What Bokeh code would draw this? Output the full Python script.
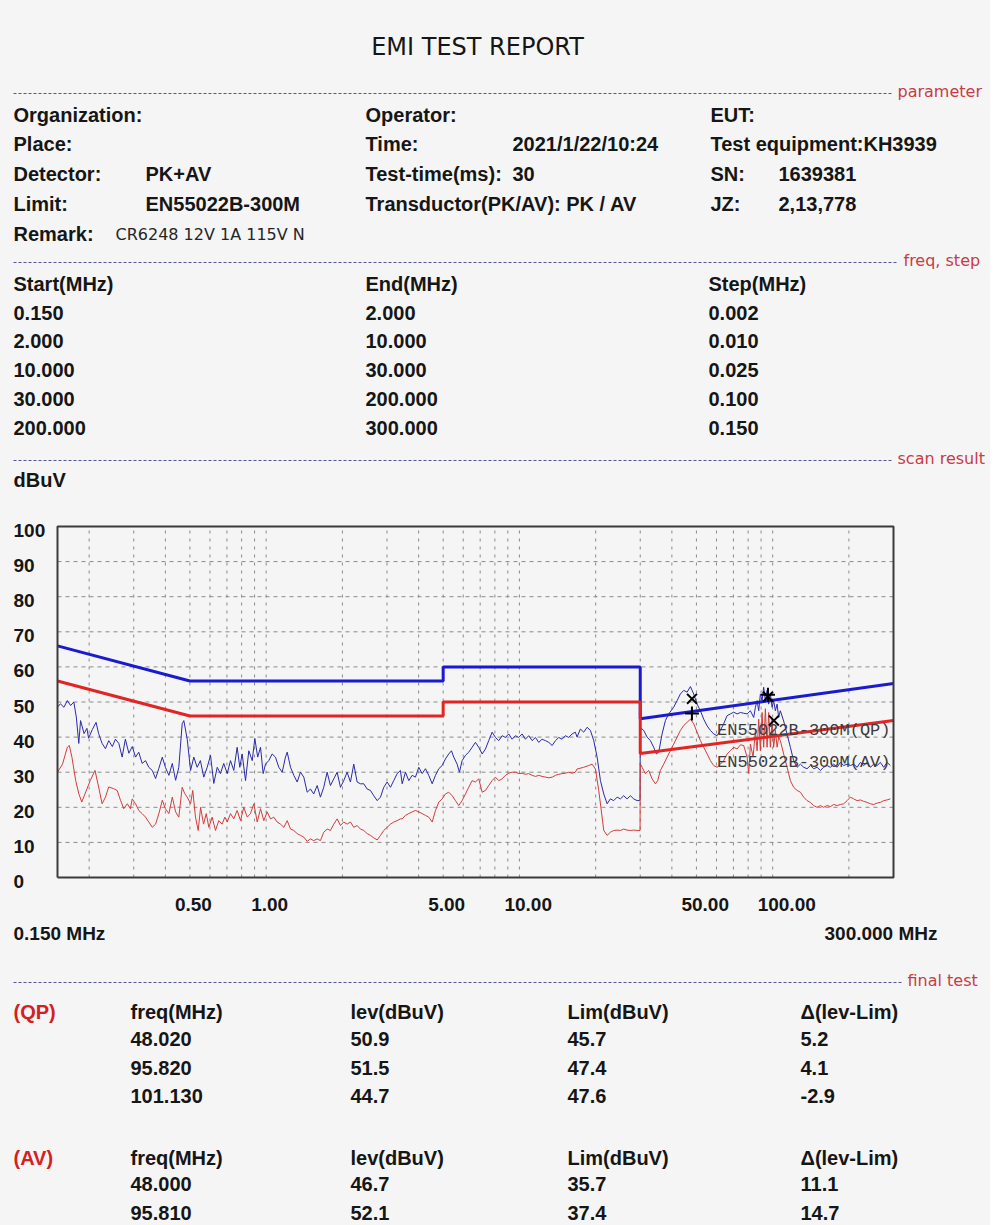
import math
from bokeh.plotting import figure
from bokeh.models import Range1d
from bokeh.layouts import column
from bokeh.core.properties import value
from bokeh.embed import file_html
from bokeh.resources import INLINE

# ------------------------------------------------------------------ data
title_text = "EMI TEST REPORT"

param_labels_c1 = ["Organization:", "Place:", "Detector:", "Limit:", "Remark:"]
param_values_c1 = ["", "", "PK+AV", "EN55022B-300M", ""]
remark_value = "CR6248 12V 1A 115V N"
param_labels_c2 = ["Operator:", "Time:", "Test-time(ms):", "Transductor(PK/AV): PK / AV"]
param_values_c2 = ["", "2021/1/22/10:24", "30", ""]
param_labels_c3 = ["EUT:", "Test equipment:KH3939", "SN:", "JZ:"]
param_values_c3 = ["", "", "1639381", "2,13,778"]

scan_headers = ["Start(MHz)", "End(MHz)", "Step(MHz)"]
scan_start = [0.150, 2.000, 10.000, 30.000, 200.000]
scan_end = [2.000, 10.000, 30.000, 200.000, 300.000]
scan_step = [0.002, 0.010, 0.025, 0.100, 0.150]

y_ticks = [0, 10, 20, 30, 40, 50, 60, 70, 80, 90, 100]
x_tick_values = [0.5, 1.0, 5.0, 10.0, 50.0, 100.0]
x_tick_labels = ["0.50", "1.00", "5.00", "10.00", "50.00", "100.00"]
x_grid_values = [0.2, 0.3, 0.4, 0.5, 0.6, 0.7, 0.8, 0.9, 1, 2, 3, 4, 5, 6, 7, 8, 9, 10,
                 20, 30, 40, 50, 60, 70, 80, 90, 100, 200]
y_grid_values = [10, 20, 30, 40, 50, 60, 70, 80, 90]
X_MIN, X_MAX = 0.15, 300.0
Y_MIN, Y_MAX = 0.0, 100.0

# limit lines (EN55022B-300M)
qp_limit_freq = [0.15, 0.5, 5.0, 5.0, 30.0, 30.0, 300.0]
qp_limit_level = [66.0, 56.0, 56.0, 60.0, 60.0, 45.2, 55.3]
av_limit_freq = [0.15, 0.5, 5.0, 5.0, 30.0, 30.0, 300.0]
av_limit_level = [56.0, 46.0, 46.0, 50.0, 50.0, 35.3, 44.7]

# peak scan (blue)
pk_freq = [0.150, 0.154, 0.159, 0.164, 0.169, 0.174, 0.178, 0.182, 0.185, 0.191, 0.196, 0.199,
           0.206, 0.213, 0.218, 0.225, 0.232, 0.239, 0.247, 0.254, 0.262, 0.270, 0.278, 0.287,
           0.296, 0.305, 0.314, 0.324, 0.334, 0.344, 0.355, 0.366, 0.377, 0.389, 0.400, 0.413,
           0.426, 0.439, 0.452, 0.466, 0.473, 0.488, 0.503, 0.518, 0.534, 0.550, 0.567, 0.585,
           0.603, 0.621, 0.641, 0.660, 0.680, 0.702, 0.723, 0.745, 0.768, 0.787, 0.804, 0.829,
           0.854, 0.881, 0.902, 0.926, 0.950, 0.973, 0.994, 1.024, 1.056, 1.088, 1.122, 1.157,
           1.192, 1.211, 1.248, 1.286, 1.326, 1.366, 1.408, 1.452, 1.496, 1.541, 1.590, 1.638,
           1.688, 1.741, 1.794, 1.849, 1.907, 1.965, 2.025, 2.088, 2.152, 2.218, 2.287, 2.357,
           2.429, 2.505, 2.581, 2.660, 2.744, 2.828, 2.913, 3.004, 3.096, 3.190, 3.291, 3.390,
           3.444, 3.549, 3.657, 3.771, 3.886, 4.005, 4.131, 4.256, 4.386, 4.524, 4.662, 4.805,
           4.955, 5.105, 5.260, 5.391, 5.505, 5.676, 5.796, 5.941, 6.122, 6.309, 6.507, 6.705,
           6.909, 7.126, 7.343, 7.566, 7.803, 8.042, 8.286, 8.545, 8.806, 9.073, 9.358, 9.645,
           9.938, 10.25, 10.56, 10.88, 11.23, 11.57, 11.92, 12.29, 12.67, 13.06, 13.47, 13.88,
           14.30, 14.74, 15.19, 15.66, 16.14, 16.63, 16.89, 17.41, 17.94, 18.51, 19.07, 19.66,
           20.27, 20.89, 21.53, 22.20, 22.87, 23.57, 24.31, 25.05, 25.81, 26.62, 27.43, 28.27,
           29.16, 29.95, 30.0, 30.96, 31.93, 32.90, 33.90, 34.74, 35.49, 36.59, 37.71, 38.85,
           40.66, 41.94, 43.22, 44.54, 45.93, 47.33, 48.77, 50.30, 51.84, 53.42, 55.10, 56.76,
           58.49, 60.32, 62.16, 64.06, 66.07, 68.10, 70.16, 72.36, 74.57, 76.84, 79.26, 81.67,
           84.17, 85.48, 86.81, 88.08, 89.44, 90.83, 92.16, 93.59, 95.05, 96.46, 97.96, 99.48,
           100.9, 102.5, 104.1, 105.6, 107.2, 110.5, 114.0, 117.5, 121.0, 124.9, 128.7, 132.6,
           136.7, 140.9, 145.2, 149.8, 154.3, 159.0, 164.0, 169.0, 174.2, 179.7, 185.1, 190.8,
           196.8, 202.7, 208.9, 215.5, 222.0, 228.8, 236.0, 243.2, 250.6, 258.5, 266.3, 274.4,
           283.0, 291.6]
pk_level = [48.5, 49.5, 48.5, 50.4, 49.0, 50.0, 45.7, 38.2, 44.7, 41.0, 42.5, 39.7,
            42.2, 44.2, 41.0, 38.2, 36.7, 39.0, 37.3, 39.4, 38.2, 34.3, 39.4, 35.4,
            37.3, 34.3, 35.7, 32.5, 33.3, 31.4, 30.5, 28.2, 31.1, 34.3, 31.4, 29.1,
            32.5, 27.7, 31.4, 43.8, 44.7, 39.4, 30.5, 34.3, 31.4, 33.3, 28.6, 31.4,
            34.8, 26.8, 31.4, 29.6, 32.5, 29.6, 33.3, 30.5, 37.1, 31.4, 35.2, 27.6,
            36.1, 33.3, 39.6, 34.3, 37.1, 29.6, 32.3, 33.3, 35.2, 34.3, 31.4, 30.0,
            34.3, 35.7, 31.4, 29.1, 27.2, 30.0, 28.6, 24.3, 25.2, 23.8, 26.2, 22.9,
            25.7, 30.0, 26.2, 28.1, 30.0, 25.7, 27.6, 30.0, 27.2, 32.3, 27.2, 26.7,
            26.7, 25.2, 24.8, 23.3, 21.9, 22.9, 25.7, 27.2, 25.7, 27.6, 29.6, 30.5,
            26.7, 30.0, 27.6, 29.1, 28.6, 31.4, 29.6, 31.0, 29.1, 26.7, 29.1, 31.0,
            31.9, 33.8, 35.2, 36.1, 34.3, 32.3, 30.0, 33.3, 34.8, 35.7, 37.1, 38.5,
            37.1, 35.2, 36.6, 39.0, 41.4, 39.9, 39.0, 40.4, 39.9, 40.9, 39.4, 40.4,
            39.9, 40.9, 39.4, 40.4, 39.0, 39.9, 38.5, 39.4, 39.0, 38.5, 37.6, 39.0,
            39.9, 39.4, 40.4, 39.9, 40.9, 41.4, 40.0, 42.3, 41.4, 42.8, 41.9, 39.0,
            34.3, 27.6, 23.8, 21.0, 22.4, 21.9, 22.9, 22.4, 23.3, 22.4, 23.3, 22.4,
            21.9, 22.0, 42.8, 41.9, 40.0, 39.0, 37.1, 35.2, 35.7, 40.9, 44.7, 46.6,
            48.5, 50.4, 52.3, 53.3, 52.8, 54.4, 52.3, 49.4, 47.5, 45.1, 43.2, 41.9,
            40.9, 40.4, 41.9, 43.8, 46.1, 46.6, 47.1, 46.6, 47.0, 46.8, 46.6, 47.5,
            45.6, 48.5, 50.4, 47.5, 52.3, 50.4, 54.2, 50.4, 53.3, 49.4, 52.3, 48.5,
            50.4, 47.5, 49.4, 45.6, 47.5, 44.6, 40.8, 37.1, 33.3, 31.4, 32.3, 31.4,
            31.0, 31.9, 31.0, 31.4, 30.5, 31.4, 31.9, 31.4, 32.3, 31.4, 32.8, 31.9,
            32.3, 31.9, 32.3, 31.4, 32.8, 31.9, 32.8, 31.4, 32.3, 31.9, 32.8, 31.4,
            32.8, 31.9]

# average scan (red)
av_freq_scan = [0.150, 0.157, 0.164, 0.167, 0.171, 0.177, 0.182, 0.187, 0.194, 0.202, 0.211, 0.218,
                0.225, 0.232, 0.239, 0.250, 0.258, 0.266, 0.274, 0.283, 0.291, 0.296, 0.305, 0.314,
                0.324, 0.334, 0.344, 0.355, 0.366, 0.377, 0.389, 0.400, 0.413, 0.426, 0.439, 0.452,
                0.466, 0.477, 0.488, 0.503, 0.513, 0.526, 0.539, 0.551, 0.566, 0.580, 0.594, 0.612,
                0.631, 0.650, 0.670, 0.687, 0.702, 0.723, 0.745, 0.768, 0.792, 0.816, 0.842, 0.867,
                0.894, 0.922, 0.950, 0.979, 1.009, 1.040, 1.072, 1.105, 1.139, 1.174, 1.211, 1.248,
                1.286, 1.326, 1.366, 1.408, 1.452, 1.496, 1.541, 1.590, 1.638, 1.688, 1.741, 1.794,
                1.849, 1.907, 1.965, 2.025, 2.088, 2.152, 2.218, 2.287, 2.357, 2.429, 2.505, 2.581,
                2.660, 2.744, 2.828, 2.913, 3.004, 3.096, 3.190, 3.291, 3.390, 3.444, 3.549, 3.657,
                3.771, 3.886, 4.005, 4.131, 4.256, 4.386, 4.524, 4.662, 4.805, 4.955, 5.105, 5.260,
                5.430, 5.591, 5.760, 5.941, 6.122, 6.309, 6.507, 6.705, 6.909, 7.126, 7.343, 7.566,
                7.803, 8.042, 8.286, 8.545, 8.806, 9.073, 9.358, 9.645, 9.938, 10.25, 10.56, 10.88,
                11.23, 11.57, 11.92, 12.29, 12.67, 13.06, 13.47, 13.88, 14.30, 14.74, 15.19, 15.66,
                16.14, 16.63, 16.89, 17.94, 18.78, 19.37, 19.96, 20.57, 21.21, 21.53, 22.20, 22.87,
                23.57, 24.31, 25.05, 25.81, 26.62, 27.43, 28.27, 29.16, 29.95, 30.0, 30.5, 31.44,
                32.40, 33.41, 34.43, 35.16, 36.03, 37.13, 38.30, 39.45, 40.66, 41.94, 43.22, 44.54,
                45.93, 47.33, 48.77, 50.30, 51.84, 53.42, 55.10, 56.76, 58.49, 60.32, 62.16, 64.06,
                66.07, 68.10, 70.16, 72.36, 74.57, 76.84, 79.26, 80.42, 81.67, 83.70, 85.48, 86.81,
                88.08, 89.44, 90.83, 92.16, 93.59, 95.05, 96.46, 97.96, 99.48, 100.9, 102.5, 104.1,
                105.6, 107.2, 110.5, 114.0, 117.5, 121.0, 124.9, 128.7, 132.6, 136.7, 140.9, 145.2,
                149.8, 154.3, 159.0, 164.0, 169.0, 174.2, 179.7, 185.1, 190.8, 196.8, 202.7, 208.9,
                215.5, 222.0, 228.8, 236.0, 243.2, 250.6, 258.5, 266.3, 274.4, 283.0, 291.6]
av_level_scan = [30.0, 32.3, 37.1, 37.6, 34.3, 27.6, 23.9, 21.5, 24.4, 27.6, 30.5, 25.8,
                 21.0, 22.9, 25.8, 25.3, 24.8, 22.0, 19.6, 21.0, 19.6, 22.4, 21.0, 19.1,
                 18.2, 17.2, 15.8, 14.3, 15.2, 18.2, 22.0, 19.6, 18.2, 22.9, 18.7, 17.2,
                 25.7, 23.9, 22.9, 21.0, 24.8, 17.2, 13.4, 20.0, 15.2, 18.2, 14.3, 17.2,
                 13.4, 16.2, 15.2, 17.2, 15.8, 18.2, 16.7, 19.1, 16.2, 20.0, 17.2, 18.2,
                 21.0, 15.8, 19.6, 16.2, 18.7, 16.7, 17.2, 15.8, 15.2, 14.3, 16.2, 13.8,
                 13.4, 12.5, 12.0, 11.5, 10.3, 11.0, 10.5, 11.0, 10.5, 12.9, 13.8, 13.4,
                 15.2, 16.7, 14.8, 15.8, 15.2, 15.8, 14.3, 14.8, 13.8, 13.4, 12.5, 12.0,
                 11.3, 10.7, 12.0, 13.4, 14.3, 15.2, 15.8, 16.2, 16.7, 16.7, 17.7, 18.2,
                 18.7, 19.1, 18.7, 18.2, 17.7, 17.2, 15.8, 19.1, 21.5, 22.4, 23.8, 24.3,
                 23.3, 21.9, 20.5, 21.9, 23.8, 25.7, 27.6, 27.2, 28.1, 24.3, 24.8, 26.2,
                 27.6, 28.6, 27.6, 28.1, 29.1, 29.7, 30.0, 30.0, 29.6, 29.7, 29.4, 29.6,
                 29.1, 28.8, 29.1, 28.8, 28.6, 28.4, 28.6, 29.1, 29.4, 29.6, 29.7, 30.0,
                 29.7, 30.0, 30.9, 31.4, 31.9, 32.3, 30.9, 24.8, 17.2, 13.4, 12.0, 12.9,
                 13.4, 13.5, 13.4, 13.8, 13.5, 13.4, 13.5, 13.4, 13.4, 32.5, 31.4, 29.6,
                 30.5, 28.1, 26.7, 27.6, 30.5, 32.3, 34.3, 36.1, 38.0, 40.0, 41.9, 43.3,
                 44.2, 45.1, 43.8, 41.4, 39.0, 37.1, 35.2, 33.3, 31.9, 31.4, 32.3, 33.3,
                 35.2, 36.1, 37.1, 36.6, 37.8, 37.6, 34.3, 29.6, 38.0, 34.3, 41.9, 36.1,
                 45.1, 36.1, 47.0, 37.1, 48.1, 37.1, 47.0, 37.1, 45.1, 37.1, 41.9, 37.1,
                 40.0, 39.0, 35.2, 31.4, 27.6, 25.7, 24.8, 24.3, 22.9, 21.9, 21.4, 20.5,
                 20.0, 20.5, 20.0, 20.5, 20.2, 20.8, 20.5, 20.8, 21.0, 21.9, 22.9, 22.4,
                 21.9, 22.1, 21.7, 21.4, 21.0, 20.8, 21.2, 21.4, 21.9, 22.1, 22.4]

# final test
qp_freq = [48.020, 95.820, 101.130]
qp_level = [50.9, 51.5, 44.7]
qp_lim = [45.7, 47.4, 47.6]
qp_delta = [5.2, 4.1, -2.9]
av_freq = [48.000, 95.810]
av_level = [46.7, 52.1]
av_lim = [35.7, 37.4]
av_delta = [11.1, 14.7]
final_headers = ["freq(MHz)", "lev(dBuV)", "Lim(dBuV)", "\u0394(lev-Lim)"]

# ------------------------------------------------------------------ style / layout
PAGE_W = 990
BG = "#f5f5f5"
TXT = "#161616"
RED_TXT = "#c83c46"
TAG_RED = "#d42020"
SEP = "#55558f"
GRID = "#8a8a8a"
FRAME = "#3a3a3a"
LIM_BLUE = "#1a1ad0"
LIM_RED = "#e22424"
TR_BLUE = "#2a2aa8"
TR_RED = "#d43c3c"
SANS = "Liberation Sans"


def base_fig(h, xr, yr, **kw):
    f = figure(width=PAGE_W, height=h, x_range=xr, y_range=yr, output_backend="svg",
               toolbar_location=None, min_border=0, x_axis_location=None, y_axis_location=None,
               background_fill_color=BG, border_fill_color=BG, outline_line_color=None,
               styles={"background-color": BG}, **kw)
    f.grid.visible = False
    return f


def put(fig, xs, ys, texts, size="20px", font=SANS, style="bold", color=TXT,
        align="left", baseline="middle", **kw):
    fig.text(x=xs, y=ys, text=texts, text_font=value(font), text_font_style=style,
             text_font_size=size, text_color=color, text_align=align,
             text_baseline=baseline, **kw)


def separator(fig, y, x_end, label, label_x):
    fig.segment(x0=[13], y0=[y], x1=[x_end], y1=[y], line_color=SEP, line_width=1,
                line_dash="3 2")
    put(fig, [label_x], [y - 2], [label], size="16px", font="DejaVu Sans", style="normal",
        color=RED_TXT)


# ------------------------------------------------------------------ header (page y 0..500)
H_TOP, H_BOT = 0, 500
hdr = base_fig(H_BOT - H_TOP, Range1d(0, PAGE_W), Range1d(H_BOT, H_TOP))
put(hdr, [477], [46], [title_text], size="24px", font="DejaVu Sans", style="normal",
    align="center")
separator(hdr, 93, 893, "parameter", 897)
rows = [114, 143, 173, 203, 233]
put(hdr, [13] * 5, rows, param_labels_c1)
put(hdr, [145] * 5, rows, param_values_c1)
put(hdr, [115], [rows[4] + 1], [remark_value], size="16px", font="DejaVu Sans",
    style="normal", color="#262626")
put(hdr, [365] * 4, rows[:4], param_labels_c2)
put(hdr, [512] * 4, rows[:4], param_values_c2)
put(hdr, [710] * 4, rows[:4], param_labels_c3)
put(hdr, [778] * 4, rows[:4], param_values_c3)

separator(hdr, 262, 897, "freq, step", 903)
srows = [283, 312, 340, 369, 398, 427]
put(hdr, [13, 365, 708], [srows[0]] * 3, scan_headers)
put(hdr, [13] * 5, srows[1:], [f"{v:.3f}" for v in scan_start])
put(hdr, [365] * 5, srows[1:], [f"{v:.3f}" for v in scan_end])
put(hdr, [708] * 5, srows[1:], [f"{v:.3f}" for v in scan_step])

separator(hdr, 460, 893, "scan result", 897)
put(hdr, [13], [479], ["dBuV"])

# ------------------------------------------------------------------ chart (page y 500..955)
C_TOP, C_BOT = 500, 955
FR_L, FR_R, FR_T, FR_B = 57, 893, 526, 877
dec_per_px = (math.log10(X_MAX) - math.log10(X_MIN)) / (FR_R - FR_L)
unit_per_px = (Y_MAX - Y_MIN) / (FR_B - FR_T)
x_start = 10 ** (math.log10(X_MIN) - FR_L * dec_per_px)
x_end = 10 ** (math.log10(X_MAX) + (PAGE_W - FR_R) * dec_per_px)
y_end = Y_MAX + (FR_T - C_TOP) * unit_per_px
y_start = Y_MIN - (C_BOT - FR_B) * unit_per_px


def px_x(px):
    return 10 ** (math.log10(X_MIN) + (px - FR_L) * dec_per_px)


def px_y(py):
    return Y_MIN + (FR_B - py) * unit_per_px


ch = base_fig(C_BOT - C_TOP, Range1d(x_start, x_end), Range1d(y_start, y_end),
              x_axis_type="log")

# grid
ch.segment(x0=x_grid_values, y0=[Y_MIN] * len(x_grid_values), x1=x_grid_values,
           y1=[Y_MAX] * len(x_grid_values), line_color=GRID, line_width=1, line_dash="3 5")
ch.segment(x0=[X_MIN] * len(y_grid_values), y0=y_grid_values, x1=[X_MAX] * len(y_grid_values),
           y1=y_grid_values, line_color=GRID, line_width=1, line_dash="4 4")

# traces
ch.line(pk_freq, pk_level, line_color=TR_BLUE, line_width=1)
ch.line(av_freq_scan, av_level_scan, line_color=TR_RED, line_width=1)

# limits
ch.line(qp_limit_freq, qp_limit_level, line_color=LIM_BLUE, line_width=3)
ch.line(av_limit_freq, av_limit_level, line_color=LIM_RED, line_width=3)

# frame
ch.line([X_MIN, X_MAX, X_MAX, X_MIN, X_MIN], [Y_MIN, Y_MIN, Y_MAX, Y_MAX, Y_MIN],
        line_color=FRAME, line_width=2)

# final-test markers
ch.scatter(qp_freq, qp_level, marker="x", size=14, line_color="#000000", line_width=2)
ch.scatter(av_freq, av_level, marker="cross", size=14, line_color="#000000", line_width=2)

# limit names
put(ch, [X_MAX, X_MAX], [px_y(730), px_y(762)], ["EN55022B-300M(QP)", "EN55022B-300M(AV)"],
    size="17px", font="Liberation Mono", style="normal", color="#3c3c3c", align="right",
    x_offset=-3)

# axis labels
put(ch, [px_x(13)] * len(y_ticks), y_ticks, [str(v) for v in y_ticks], size="19px",
    y_offset=4)
put(ch, x_tick_values, [px_y(904)] * len(x_tick_values), x_tick_labels, size="19px",
    x_offset=-15)
put(ch, [px_x(13)], [px_y(933)], [f"{X_MIN:.3f} MHz"], size="19px")
put(ch, [px_x(937)], [px_y(933)], [f"{X_MAX:.3f} MHz"], size="19px", align="right")

# ------------------------------------------------------------------ footer (page y 955..1225)
F_TOP, F_BOT = 955, 1225
ftr = base_fig(F_BOT - F_TOP, Range1d(0, PAGE_W), Range1d(F_BOT, F_TOP))
separator(ftr, 982, 903, "final test", 907)
cols = [130, 350, 567, 800]
qrows = [1011, 1038, 1067, 1095]
arows = [1157, 1183, 1212]
put(ftr, [13], [qrows[0]], ["(QP)"], color=TAG_RED)
put(ftr, cols, [qrows[0]] * 4, final_headers)
put(ftr, [cols[0]] * 3, qrows[1:], [f"{v:.3f}" for v in qp_freq])
put(ftr, [cols[1]] * 3, qrows[1:], [f"{v:.1f}" for v in qp_level])
put(ftr, [cols[2]] * 3, qrows[1:], [f"{v:.1f}" for v in qp_lim])
put(ftr, [cols[3]] * 3, qrows[1:], [f"{v:.1f}" for v in qp_delta])
put(ftr, [13], [arows[0]], ["(AV)"], color=TAG_RED)
put(ftr, cols, [arows[0]] * 4, final_headers)
put(ftr, [cols[0]] * 2, arows[1:], [f"{v:.3f}" for v in av_freq])
put(ftr, [cols[1]] * 2, arows[1:], [f"{v:.1f}" for v in av_level])
put(ftr, [cols[2]] * 2, arows[1:], [f"{v:.1f}" for v in av_lim])
put(ftr, [cols[3]] * 2, arows[1:], [f"{v:.1f}" for v in av_delta])

page = column(hdr, ch, ftr, spacing=0, styles={"background-color": BG})
open("out.html", "w").write(file_html(page, INLINE, title="EMI TEST REPORT"))
